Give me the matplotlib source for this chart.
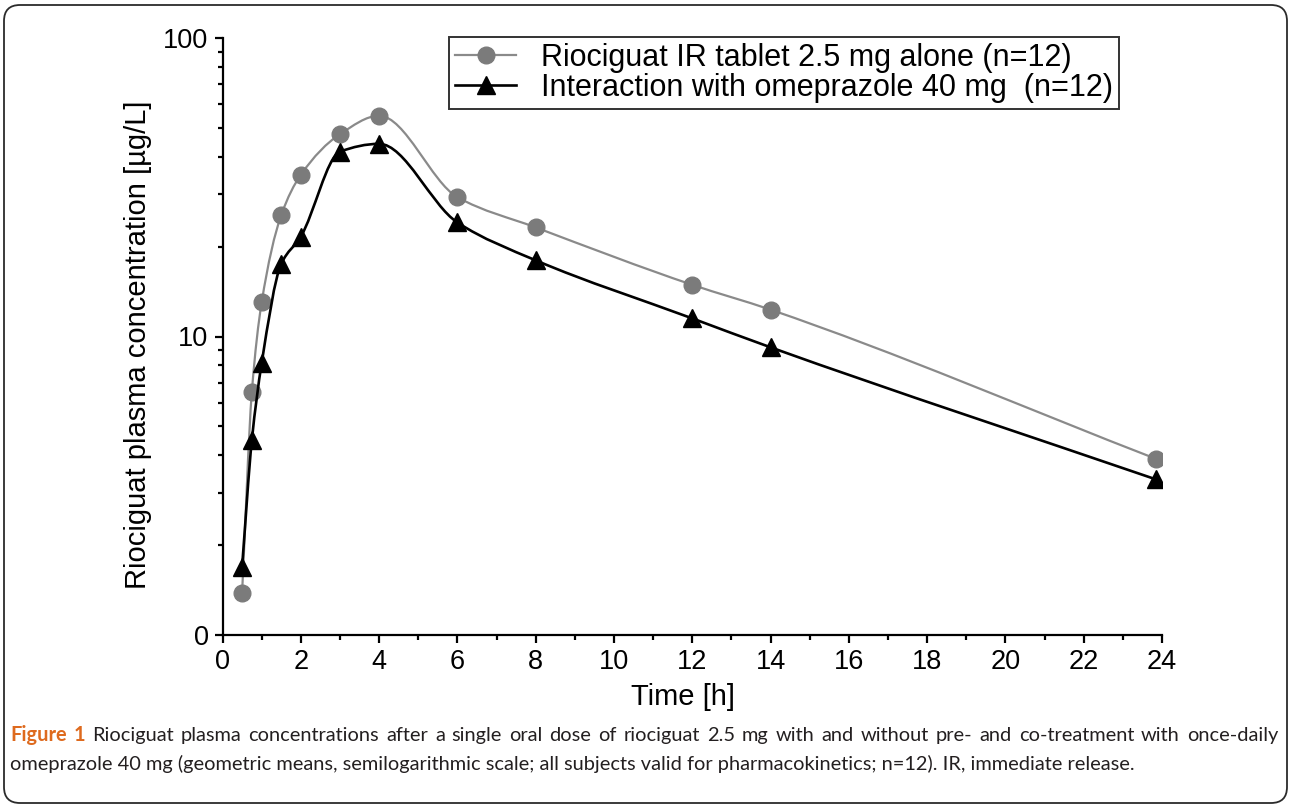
import numpy as np
import matplotlib
matplotlib.use('Agg')
import matplotlib.pyplot as plt
from matplotlib.path import Path
from matplotlib.patches import PathPatch, FancyBboxPatch
from matplotlib.lines import Line2D
from matplotlib.ticker import FixedLocator, FixedFormatter, NullFormatter

# geometric mean plasma concentrations (ug/L)
time_h = [0.5, 0.75, 1, 1.5, 2, 3, 4, 6, 8, 12, 14, 23.85]
conc_alone = [1.38, 6.53, 13.0, 25.5, 34.8, 47.6, 54.9, 29.3, 23.2, 14.9, 12.3, 3.89]
conc_omep = [1.69, 4.50, 8.13, 17.5, 21.6, 41.6, 44.2, 24.1, 18.0, 11.5, 9.2, 3.32]

labels = ['Riociguat IR tablet 2.5 mg alone (n=12)',
          'Interaction with omeprazole 40 mg  (n=12)']
x_ticks = list(range(0, 25, 2))
y_ticks = [1, 10, 100]
y_ticklabels = ['0', '10', '100']

caption1 = ('Riociguat plasma concentrations after a single oral dose of riociguat 2.5 mg '
            'with and without pre- and co-treatment with once-daily')
caption2 = ('omeprazole 40 mg (geometric means, semilogarithmic scale; all subjects valid '
            'for pharmacokinetics; n=12). IR, immediate release.')

GREY_M = '#7b7b7b'
GREY_L = '#8a8a8a'
ORANGE = '#de6a1e'

plt.rcParams['font.family'] = ['Liberation Sans', 'DejaVu Sans']

W, H = 1290, 810
fig = plt.figure(figsize=(W / 100, H / 100), dpi=100)
ax = fig.add_axes([222.5 / W, 1 - 635 / H, (1162 - 222.5) / W, (635 - 38) / H])


def smooth_path(x, y):
    # monotone cubic (pchip style) curve through the points, in (x, log y)
    x = np.asarray(x, float)
    ly = np.log10(y)
    h = np.diff(x)
    d = np.diff(ly) / h
    n = len(x)
    m = np.zeros(n)
    m[0], m[-1] = d[0], d[-1]
    for i in range(1, n - 1):
        if d[i - 1] * d[i] > 0:
            w1 = 2 * h[i] + h[i - 1]
            w2 = h[i] + 2 * h[i - 1]
            m[i] = (w1 + w2) / (w1 / d[i - 1] + w2 / d[i])
    verts = [(x[0], y[0])]
    codes = [Path.MOVETO]
    for i in range(n - 1):
        verts += [(x[i] + h[i] / 3, 10 ** (ly[i] + m[i] * h[i] / 3)),
                  (x[i + 1] - h[i] / 3, 10 ** (ly[i + 1] - m[i + 1] * h[i] / 3)),
                  (x[i + 1], y[i + 1])]
        codes += [Path.CURVE4] * 3
    return Path(verts, codes)


ax.set_yscale('log')
ax.set_xlim(0, 24)
ax.set_ylim(1, 100)

ax.add_patch(PathPatch(smooth_path(time_h, conc_alone), fill=False,
                       edgecolor=GREY_L, lw=1.6, zorder=2))
ax.plot(time_h, conc_alone, 'o', color=GREY_M, ms=12, mec=GREY_M, zorder=3)
ax.add_patch(PathPatch(smooth_path(time_h, conc_omep), fill=False,
                       edgecolor='black', lw=1.9, zorder=4))
ax.plot(time_h, conc_omep, '^', color='black', ms=13, zorder=5)

for s in ['top', 'right']:
    ax.spines[s].set_visible(False)
for s in ['left', 'bottom']:
    ax.spines[s].set_linewidth(1.6)

ax.xaxis.set_major_locator(FixedLocator(x_ticks))
ax.xaxis.set_minor_locator(FixedLocator(list(range(1, 24, 2))))
ax.yaxis.set_major_locator(FixedLocator(y_ticks))
ax.yaxis.set_major_formatter(FixedFormatter(y_ticklabels))
ax.yaxis.set_minor_locator(FixedLocator([k * d for d in (1, 10) for k in range(2, 10)]))
ax.yaxis.set_minor_formatter(NullFormatter())
ax.tick_params(which='major', direction='out', length=6, width=1.6, labelsize=19.5, pad=4)
ax.tick_params(which='minor', direction='out', length=3.5, width=1.6)

ax.set_xlabel('Time [h]', fontsize=21)
ax.xaxis.set_label_coords(0.49, -0.08)
ax.set_ylabel('Riociguat plasma concentration [µg/L]', fontsize=21)
ax.yaxis.set_label_coords(-0.075, 0.486)

handles = [Line2D([], [], color=GREY_L, lw=1.6, marker='o', ms=12, mfc=GREY_M, mec=GREY_M),
           Line2D([], [], color='black', lw=1.9, marker='^', ms=13)]
leg = fig.legend(handles, labels, loc='upper left', bbox_to_anchor=(449 / W, 1 - 37 / H),
                 fontsize=22, frameon=True, fancybox=False, edgecolor='black',
                 handlelength=2.0, handletextpad=0.8, borderpad=0.2, labelspacing=0.0,
                 borderaxespad=0)
leg.get_frame().set_linewidth(1.4)

# rounded border around the whole figure
fig.patches.append(FancyBboxPatch((0.04, 0.07), 12.83, 7.98,
                                  boxstyle='round,pad=0,rounding_size=0.16',
                                  transform=fig.dpi_scale_trans, fill=False,
                                  edgecolor='#2b2b2b', lw=1.3))

# caption, first line justified like the journal layout
r = fig.canvas.get_renderer()
cap_font = ['Lato', 'DejaVu Sans']
probe = fig.text(0, 0, caption2, fontsize=13, family=cap_font)
size = 13 * (1133 - 10) / probe.get_window_extent(r).width
probe.remove()

words = [('Figure', True), ('1', True)] + [(w, False) for w in caption1.split()]
objs = []
for w, bold in words:
    objs.append(fig.text(0, 1 - 741 / H, w, fontsize=size, family=cap_font,
                         weight='bold' if bold else 'normal',
                         color=ORANGE if bold else '#231f20', va='baseline'))
widths = [o.get_window_extent(r).width for o in objs]
gap = (1278 - 10 - sum(widths)) / (len(objs) - 1)
x = 10
for o, w in zip(objs, widths):
    o.set_x(x / W)
    x += w + gap

fig.text(10 / W, 1 - 770 / H, caption2, fontsize=size, family=cap_font,
         color='#231f20', va='baseline')

fig.savefig('out.png', dpi=100)
